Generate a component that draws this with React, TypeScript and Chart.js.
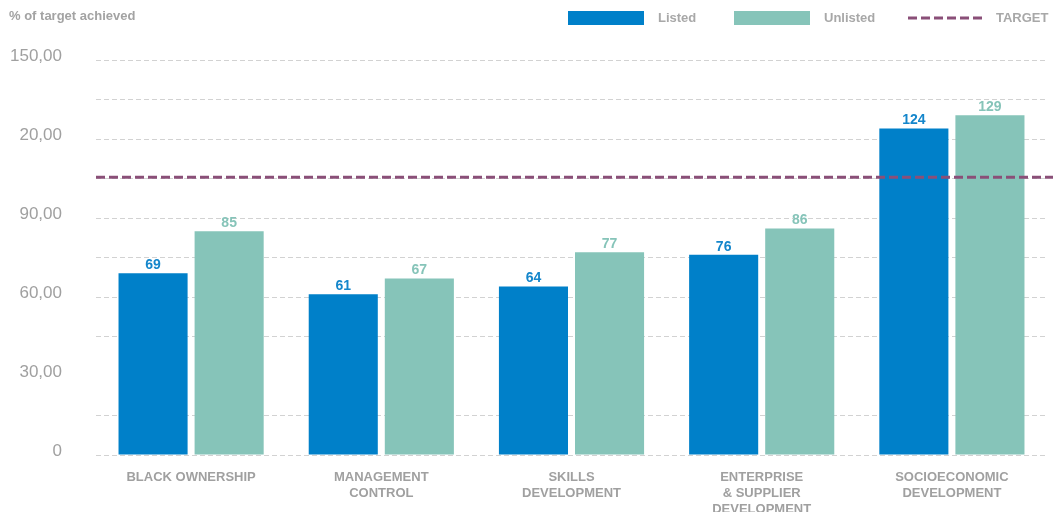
import React, { useEffect, useRef } from "react";
import { Chart, registerables } from "chart.js";

Chart.register(...registerables);

const categories: string[][] = [
  ["BLACK OWNERSHIP"],
  ["MANAGEMENT", "CONTROL"],
  ["SKILLS", "DEVELOPMENT"],
  ["ENTERPRISE", "& SUPPLIER", "DEVELOPMENT"],
  ["SOCIOECONOMIC", "DEVELOPMENT"],
];
const listedValues = [69, 61, 64, 76, 124];
const unlistedValues = [85, 67, 77, 86, 129];
const targetValue = 105.5;
const yTickValues = [0, 30, 60, 90, 120, 150];
const yTickLabels = ["0", "30,00", "60,00", "90,00", "20,00", "150,00"];
const hiddenGridValues = [30];

const LISTED = "#0080c9";
const UNLISTED = "#86c4b9";
const TARGET = "#8a4f78";
const GRAY = "#a3a3a3";
const FONT = "'Liberation Sans', Arial, Helvetica, sans-serif";

export default function App() {
  const ref = useRef<HTMLCanvasElement | null>(null);
  useEffect(() => {
    if (!ref.current) return;

    const overlay = {
      id: "overlay",
      afterDatasetsDraw(chart: any) {
        const ctx = chart.ctx;
        const area = chart.chartArea;
        const y = chart.scales.y.getPixelForValue(targetValue);
        ctx.save();
        ctx.font = `bold 14px ${FONT}`;
        ctx.textAlign = "center";
        ctx.textBaseline = "bottom";
        chart.data.datasets.forEach((ds: any, i: number) => {
          const meta = chart.getDatasetMeta(i);
          ctx.fillStyle = ds.labelColor;
          meta.data.forEach((bar: any, j: number) => {
            ctx.fillText(String(ds.data[j]), bar.x, bar.y - 1);
          });
        });
        ctx.strokeStyle = TARGET;
        ctx.lineWidth = 3;
        ctx.setLineDash([9, 4]);
        ctx.beginPath();
        ctx.moveTo(area.left, y);
        ctx.lineTo(chart.width, y);
        ctx.stroke();
        ctx.restore();
      },
      afterDraw(chart: any) {
        const ctx = chart.ctx;
        ctx.save();
        ctx.fillStyle = GRAY;
        ctx.font = `bold 13px ${FONT}`;
        ctx.textBaseline = "middle";
        ctx.textAlign = "left";
        ctx.fillText("% of target achieved", 9, 16);
        const ly = 18;
        ctx.fillStyle = LISTED;
        ctx.fillRect(568, 11, 76, 14);
        ctx.fillStyle = UNLISTED;
        ctx.fillRect(734, 11, 76, 14);
        ctx.strokeStyle = TARGET;
        ctx.lineWidth = 3;
        ctx.setLineDash([9, 4]);
        ctx.beginPath();
        ctx.moveTo(908, ly);
        ctx.lineTo(986, ly);
        ctx.stroke();
        ctx.setLineDash([]);
        ctx.fillStyle = "#a8a8a8";
        ctx.font = `bold 13px ${FONT}`;
        ctx.fillText("Listed", 658, ly);
        ctx.fillText("Unlisted", 824, ly);
        ctx.fillText("TARGET", 996, ly);
        ctx.restore();
      },
    };

    const chart = new Chart(ref.current, {
      type: "bar",
      data: {
        labels: categories,
        datasets: [
          {
            label: "Listed",
            data: listedValues,
            backgroundColor: LISTED,
            labelColor: "#1486cb",
            categoryPercentage: 0.8,
            barPercentage: 0.908,
          } as any,
          {
            label: "Unlisted",
            data: unlistedValues,
            backgroundColor: UNLISTED,
            labelColor: "#86c4b9",
            categoryPercentage: 0.8,
            barPercentage: 0.908,
          } as any,
        ],
      },
      options: {
        responsive: false,
        animation: false,
        layout: { padding: { top: 60, right: 6, left: 0, bottom: 0 } },
        plugins: {
          legend: { display: false },
          tooltip: { enabled: false },
        },
        scales: {
          x: {
            grid: { display: false, drawTicks: false },
            border: { display: false },
            ticks: {
              color: "#a0a0a0",
              font: { family: FONT, size: 13, weight: "bold", lineHeight: 1.23 },
              padding: 14,
              maxRotation: 0,
              autoSkip: false,
            },
            afterFit(scale: any) {
              scale.height = 57;
            },
          },
          y: {
            min: 0,
            max: 150,
            grid: {
              drawTicks: false,
              color: (ctx: any) =>
                hiddenGridValues.includes(ctx.tick?.value) ? "rgba(0,0,0,0)" : "#d2d2d2",
              lineWidth: 1,
            },
            border: { display: false, dash: [5, 3] },
            ticks: {
              stepSize: 15,
              padding: 34,
              labelOffset: -4,
              color: "#a0a0a0",
              font: { family: FONT, size: 17 },
              callback: (v: any) => {
                const i = yTickValues.indexOf(Number(v));
                return i >= 0 ? yTickLabels[i] : "";
              },
            },
            afterFit(scale: any) {
              scale.width = 96;
            },
          },
        },
      },
      plugins: [overlay],
    });
    return () => chart.destroy();
  }, []);

  return (
    <div style={{ position: "absolute", left: 0, top: 0, width: 1053, height: 512 }}>
      <canvas ref={ref} width={1053} height={512} />
    </div>
  );
}
